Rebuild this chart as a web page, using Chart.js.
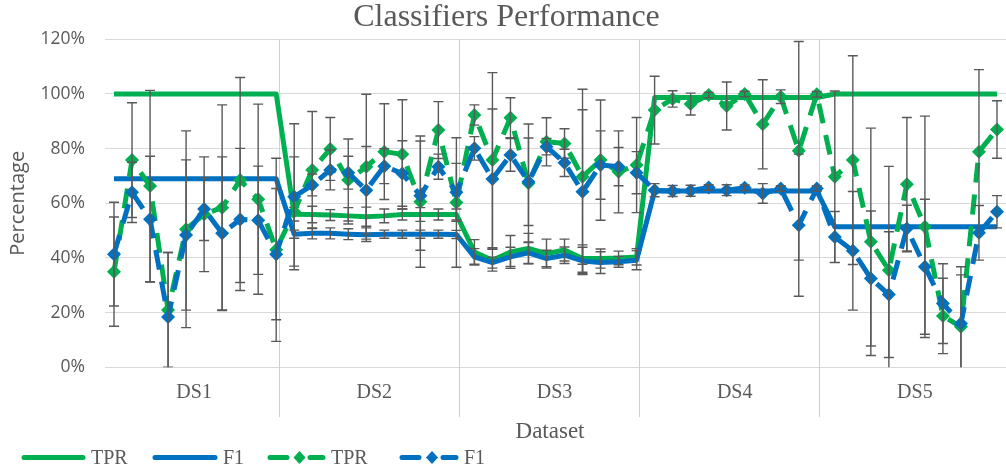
<!DOCTYPE html>
<html>
<head>
<meta charset="utf-8">
<title>Classifiers Performance</title>
<script src="https://cdn.jsdelivr.net/npm/chart.js@4.4.0/dist/chart.umd.min.js"></script>
<style>
  html, body { margin: 0; padding: 0; background: #fff; overflow: hidden; }
  #wrap { width: 1006px; height: 471px; overflow: hidden; }
</style>
</head>
<body>
<div id="wrap"><canvas id="chart" width="1013" height="471"></canvas></div>
<script>
// Groupes et runs (10 runs par dataset)
const groups = ['DS1', 'DS2', 'DS3', 'DS4', 'DS5'];
const runsPerGroup = 10;
const yTicks = [0, 20, 40, 60, 80, 100, 120];

// Séries (en %)
const tprSolid = [
    100, 100, 100, 100, 100, 100, 100, 100, 100, 100,
    56, 55.9, 55.7, 55.4, 55.1, 55.4, 55.9, 55.9, 55.9, 55.9,
    42.2, 39.2, 42.2, 43.5, 41.6, 42.9, 39.8, 39.8, 40, 40.4,
    98.7, 98.7, 98.7, 98.7, 98.7, 98.7, 98.7, 98.7, 98.7, 98.7,
    100, 100, 100, 100, 100, 100, 100, 100, 100, 100
];
const f1Solid = [
    69, 69, 69, 69, 69, 69, 69, 69, 69, 69,
    48.7, 49, 49, 48.7, 48.5, 48.7, 48.7, 48.7, 48.7, 48.6,
    40.4, 38.3, 40.4, 41.9, 39.8, 41, 38.9, 38.3, 38.6, 39.2,
    64.5, 64.5, 64.5, 64.5, 64.5, 64.5, 64.5, 64.5, 64.5, 64.5,
    51.4, 51.4, 51.4, 51.4, 51.4, 51.4, 51.4, 51.4, 51.4, 51.4
];
const tprDashed = [
    35, 75.8, 66.3, 21, 50.5, 56, 58.4, 68.5, 61.5, 43,
    57, 72.2, 79.9, 68.5, 73.4, 78.9, 77.9, 60.6, 86.8, 60.3,
    92.3, 75.8, 91.3, 67.3, 82.5, 81.9, 69.7, 75.8, 71.5, 74,
    94.1, 98.2, 96.3, 99.6, 95.6, 100, 88.9, 99, 79.2, 99.9,
    69.7, 75.8, 45.9, 35.5, 67, 51.4, 18.8, 14.8, 78.9, 87
];
const f1Dashed = [
    41.4, 64, 54.2, 18.4, 48.4, 57.9, 49, 54.1, 53.8, 41.4,
    62.4, 66.7, 72.2, 71.2, 64.8, 73.6, 70.9, 62.8, 73.4, 64,
    80.1, 68.9, 77.7, 67.9, 80.7, 74.8, 64.2, 74, 73.4, 71.2,
    64.8, 64.5, 64.6, 65.8, 64.8, 65.7, 63.6, 65.4, 52, 65.4,
    47.7, 42.6, 32.5, 26.6, 50.8, 36.8, 23.3, 16, 49.2, 56.9
];

// Ecarts-types (barres d'erreur, +/-)
const tprSolidErr = [
    0, 0, 0, 0, 0, 0, 0, 0, 0, 0,
    2.5, 3, 2, 3, 3.5, 2.5, 2, 2.5, 2, 2,
    4.5, 4, 6, 5.5, 5.3, 4, 5, 3.5, 2.5, 3,
    0, 0, 0, 0, 0, 0, 0, 0, 0, 0,
    0, 0, 0, 0, 0, 0, 0, 0, 0, 0
];
const f1SolidErr = [
    0, 0, 0, 0, 0, 0, 0, 0, 0, 0,
    1.5, 2, 2, 2, 2.5, 1.5, 1.5, 1.5, 1.5, 1.5,
    3, 2, 3.5, 4, 3, 3, 5, 4, 2, 3.5,
    0, 0, 0, 0, 0, 0, 0, 0, 0, 0,
    0, 0, 0, 0, 0, 0, 0, 0, 0, 0
];
const tprDashedErr = [
    20, 21, 35, 21, 36, 21, 37.6, 37.5, 34.8, 33.5,
    20, 21.4, 11.5, 15, 26.5, 17.5, 20, 24, 10.4, 23.7,
    3.7, 32, 7.3, 21.7, 8.8, 5.4, 32, 22, 15, 17.4,
    12.4, 3, 4, 1, 8.8, 1, 16.3, 2.5, 40, 1,
    31.4, 38.2, 41.6, 38, 24.4, 40.5, 13.8, 19, 30, 10.5
];
const f1DashedErr = [
    19, 11, 23, 23.6, 27.5, 11.5, 28, 26, 19.8, 24,
    26.7, 4, 7.3, 6, 16, 6.4, 12, 20, 4.6, 10.6,
    4.3, 25.6, 6, 16, 3, 5, 30, 12.5, 7, 7.7,
    2.4, 2, 2, 1, 2, 1, 3.6, 1, 26, 1,
    9.3, 21.7, 24.7, 23, 8.5, 24.7, 14.6, 20.8, 10, 5.9
];

const colors = {
    green: '#00b050',
    blue: '#0070c0',
    text: '#595959',
    grid: '#d9d9d9',
    sep: '#cfcfcf',
    err: '#595959'
};

const xLabels = groups.flatMap(g => Array.from({ length: runsPerGroup }, (_, i) => g + ' #' + (i + 1)));
const errors = [tprSolidErr, f1SolidErr, tprDashedErr, f1DashedErr];
const DASH = [20, 12];

/**
 * Séparateurs, libellés DS, titre d'axe X, barres d'erreur et légende
 */
const decorPlugin = {
    id: 'decor',
    beforeDatasetsDraw(chart) {
        const { ctx, chartArea, scales: { x } } = chart;
        const step = x.getPixelForValue(1) - x.getPixelForValue(0);
        ctx.save();
        ctx.strokeStyle = colors.sep;
        ctx.lineWidth = 1;
        ctx.beginPath();
        for (let g = 1; g < groups.length; g++) {
            const px = Math.round(x.getPixelForValue(g * runsPerGroup - 1) + 0.15 * step) + 0.5;
            ctx.moveTo(px, chartArea.top);
            ctx.lineTo(px, 417);
        }
        ctx.stroke();
        ctx.restore();
    },
    afterDatasetDraw(chart, args) {
        const err = errors[args.index];
        const vals = chart.data.datasets[args.index].data;
        const { ctx, chartArea, scales: { y } } = chart;
        ctx.save();
        ctx.beginPath();
        ctx.rect(chartArea.left, chartArea.top - 1, chartArea.right - chartArea.left, chartArea.bottom - chartArea.top + 1);
        ctx.clip();
        ctx.strokeStyle = colors.err;
        ctx.lineWidth = 1.4;
        ctx.setLineDash([]);
        ctx.beginPath();
        args.meta.data.forEach((pt, i) => {
            const e = err[i];
            if (!e) return;
            const yHi = y.getPixelForValue(vals[i] + e);
            const yLo = y.getPixelForValue(vals[i] - e);
            ctx.moveTo(pt.x, yHi);
            ctx.lineTo(pt.x, yLo);
            ctx.moveTo(pt.x - 5, yHi);
            ctx.lineTo(pt.x + 5, yHi);
            ctx.moveTo(pt.x - 5, yLo);
            ctx.lineTo(pt.x + 5, yLo);
        });
        ctx.stroke();
        ctx.restore();
    },
    afterDraw(chart) {
        const { ctx, scales: { x } } = chart;
        ctx.save();
        ctx.fillStyle = colors.text;

        // Libellés des datasets
        ctx.font = '20px "Liberation Serif"';
        ctx.textAlign = 'center';
        ctx.textBaseline = 'alphabetic';
        groups.forEach((g, gi) => {
            const a = x.getPixelForValue(gi * runsPerGroup);
            const b = x.getPixelForValue(gi * runsPerGroup + runsPerGroup - 1);
            ctx.fillText(g, (a + b) / 2 - 1, 398);
        });

        // Titre de l'axe X
        ctx.font = '23px "Liberation Serif"';
        ctx.fillText('Dataset', 550, 438);

        // Légende
        const ly = 457.5;
        const items = [
            { x0: 22, x1: 85, color: colors.green, dashed: false, text: 'TPR' },
            { x0: 153, x1: 217, color: colors.blue, dashed: false, text: 'F1' },
            { x0: 268, x1: 325, color: colors.green, dashed: true, text: 'TPR' },
            { x0: 400, x1: 458, color: colors.blue, dashed: true, text: 'F1' }
        ];
        ctx.font = '20px "Liberation Serif"';
        ctx.textAlign = 'left';
        ctx.textBaseline = 'middle';
        items.forEach(it => {
            ctx.strokeStyle = it.color;
            ctx.fillStyle = it.color;
            ctx.lineWidth = 5;
            ctx.lineCap = 'round';
            ctx.beginPath();
            if (it.dashed) {
                const mid = (it.x0 + it.x1) / 2 + 3;
                ctx.moveTo(it.x0 + 2, ly);
                ctx.lineTo(it.x0 + 19, ly);
                ctx.moveTo(it.x1 - 15, ly);
                ctx.lineTo(it.x1 - 2, ly);
                ctx.stroke();
                ctx.beginPath();
                ctx.moveTo(mid, ly - 6.5);
                ctx.lineTo(mid + 6, ly);
                ctx.lineTo(mid, ly + 6.5);
                ctx.lineTo(mid - 6, ly);
                ctx.closePath();
                ctx.fill();
            } else {
                ctx.moveTo(it.x0 + 2, ly);
                ctx.lineTo(it.x1 - 2, ly);
                ctx.stroke();
            }
            ctx.fillStyle = colors.text;
            ctx.fillText(it.text, it.x1 + 6, ly + 1);
        });
        ctx.restore();
    }
};

function lineDataset(label, data, color, dashed, order) {
    return {
        label: label,
        data: data,
        borderColor: color,
        backgroundColor: color,
        borderWidth: 5,
        borderDash: dashed ? DASH : [],
        borderCapStyle: 'butt',
        borderJoinStyle: 'round',
        tension: 0,
        fill: false,
        pointStyle: 'rectRot',
        pointRadius: dashed ? 7 : 0,
        pointHoverRadius: dashed ? 7 : 0,
        pointBackgroundColor: color,
        pointBorderColor: color,
        pointBorderWidth: 0,
        order: order
    };
}

new Chart(document.getElementById('chart'), {
    type: 'line',
    data: {
        labels: xLabels,
        datasets: [
            lineDataset('TPR', tprSolid, colors.green, false, 4),
            lineDataset('F1', f1Solid, colors.blue, false, 3),
            lineDataset('TPR', tprDashed, colors.green, true, 2),
            lineDataset('F1', f1Dashed, colors.blue, true, 1)
        ]
    },
    options: {
        responsive: false,
        animation: false,
        layout: { padding: 0 },
        plugins: {
            legend: { display: false },
            tooltip: { enabled: false },
            title: {
                display: true,
                text: 'Classifiers Performance',
                color: colors.text,
                font: { family: 'Liberation Serif', size: 32, weight: 'normal', lineHeight: 0.8 },
                padding: { top: 5, bottom: 8.7 }
            }
        },
        scales: {
            x: {
                type: 'category',
                offset: true,
                grid: { display: false },
                border: { display: false },
                ticks: { display: false },
                afterFit: function (scale) { scale.height = 103.7; }
            },
            y: {
                min: 0,
                max: 120,
                afterBuildTicks: function (scale) {
                    scale.ticks = yTicks.map(v => ({ value: v }));
                },
                grid: { color: colors.grid, lineWidth: 1, drawTicks: false },
                border: { display: false },
                ticks: {
                    color: colors.text,
                    font: { family: 'Open Sans', size: 17.5 },
                    padding: 20,
                    callback: function (value) { return value + '%'; }
                },
                title: {
                    display: true,
                    text: 'Percentage',
                    color: colors.text,
                    font: { family: 'Open Sans', size: 20 },
                    padding: { top: 6, bottom: 0 }
                },
                afterFit: function (scale) { scale.width = 105; }
            }
        }
    },
    plugins: [decorPlugin]
});
</script>
</body>
</html>
